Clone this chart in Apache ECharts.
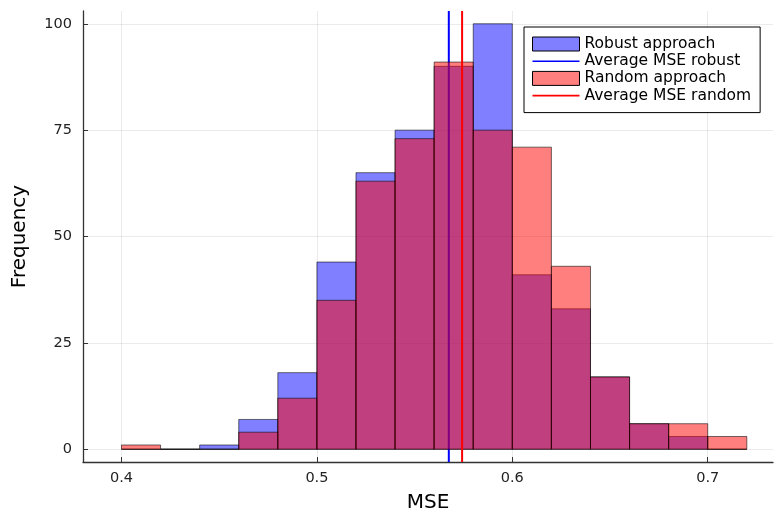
<!DOCTYPE html>
<html>
<head>
<meta charset="utf-8">
<script src="https://cdn.jsdelivr.net/npm/echarts@6/dist/echarts.min.js"></script>
<style>html,body{margin:0;padding:0;background:#fff}#c{width:775px;height:518px}</style>
</head>
<body>
<div id="c"></div>
<script>
// Bin edges (left edges), width 0.02
const binStarts = [0.40,0.42,0.44,0.46,0.48,0.50,0.52,0.54,0.56,0.58,0.60,0.62,0.64,0.66,0.68,0.70];
const binWidth = 0.02;
const robustCounts = [0,0,1,7,18,44,65,75,90,100,41,33,17,6,3,0];
const randomCounts = [1,0,0,4,12,35,63,73,91,75,71,43,17,6,6,3];
const avgRobust = 0.5675;
const avgRandom = 0.5743;
const xTicks = [0.4,0.5,0.6,0.7];
const yTicks = [0,25,50,75,100];
const xRange = [0.3803,0.7334];
const yRange = [-3,103];

function histData(counts){
  return binStarts.map((s,i)=>[s, s+binWidth, counts[i]]);
}
function renderBar(params, api){
  const a = api.coord([api.value(0), 0]);
  const b = api.coord([api.value(1), api.value(2)]);
  return {
    type:'rect',
    shape:{x:a[0], y:b[1], width:b[0]-a[0], height:a[1]-b[1]},
    style:{fill:api.visual('color'), stroke:'rgba(0,0,0,0.55)', lineWidth:1}
  };
}
const lineIcon = 'path://M0,0 M47,14 M0,6.2 L47,6.2 L47,7.8 L0,7.8 Z';
const F = 'DejaVu Sans';
const chart = echarts.init(document.getElementById('c'), null, {renderer:'canvas'});
chart.setOption({
  animation:false,
  backgroundColor:'#fff',
  textStyle:{fontFamily:F},
  grid:{left:83, right:2, top:11, bottom:52, containLabel:false},
  legend:{
    orient:'vertical', left:524, top:27,
    padding:[9,9,9,8], itemGap:1.2, itemWidth:47, itemHeight:14,
    borderColor:'#000', borderWidth:1, backgroundColor:'#fff',
    textStyle:{fontFamily:F, fontSize:15.5, color:'#000', lineHeight:15},
    data:[
      {name:'Robust approach', icon:'rect', itemStyle:{color:'rgba(0,0,255,0.5)', borderColor:'#000', borderWidth:1}},
      {name:'Average MSE robust', icon:lineIcon, itemStyle:{color:'#0000ff', borderWidth:0}},
      {name:'Random approach', icon:'rect', itemStyle:{color:'rgba(255,0,0,0.5)', borderColor:'#000', borderWidth:1}},
      {name:'Average MSE random', icon:lineIcon, itemStyle:{color:'#ff0000', borderWidth:0}}
    ]
  },
  xAxis:{
    type:'value', min:xRange[0], max:xRange[1],
    name:'MSE', nameLocation:'middle', nameGap:31,
    nameTextStyle:{fontFamily:F, fontSize:20, color:'#000'},
    axisLine:{show:true, onZero:false, lineStyle:{color:'#333', width:1.3}},
    axisTick:{show:true, inside:true, length:5, customValues:xTicks, lineStyle:{color:'#333'}},
    axisLabel:{customValues:xTicks, margin:9, fontSize:14.5, color:'#222', fontFamily:F,
      formatter:v=>v.toFixed(1)},
    splitLine:{show:true, lineStyle:{color:'rgba(0,0,0,0.08)', width:1}}
  },
  yAxis:{
    type:'value', min:yRange[0], max:yRange[1],
    name:'Frequency', nameLocation:'middle', nameGap:53,
    nameTextStyle:{fontFamily:F, fontSize:20, color:'#000'},
    axisLine:{show:true, onZero:false, lineStyle:{color:'#333', width:1.3}},
    axisTick:{show:true, inside:true, length:5, customValues:yTicks, lineStyle:{color:'#333'}},
    axisLabel:{customValues:yTicks, margin:11, fontSize:14.5, color:'#222', fontFamily:F},
    splitLine:{show:true, lineStyle:{color:'rgba(0,0,0,0.08)', width:1}}
  },
  series:[
    {name:'Robust approach', type:'custom', renderItem:renderBar,
     itemStyle:{color:'rgba(0,0,255,0.5)'}, encode:{x:[0,1], y:2}, data:histData(robustCounts), z:2},
    {name:'Average MSE robust', type:'line', symbol:'none', showSymbol:false,
     lineStyle:{color:'#0000ff', width:2}, itemStyle:{color:'#0000ff'},
     data:[[avgRobust, yRange[0]],[avgRobust, yRange[1]]], z:3},
    {name:'Random approach', type:'custom', renderItem:renderBar,
     itemStyle:{color:'rgba(255,0,0,0.5)'}, encode:{x:[0,1], y:2}, data:histData(randomCounts), z:4},
    {name:'Average MSE random', type:'line', symbol:'none', showSymbol:false,
     lineStyle:{color:'#ff0000', width:2}, itemStyle:{color:'#ff0000'},
     data:[[avgRandom, yRange[0]],[avgRandom, yRange[1]]], z:5}
  ]
});
</script>
</body>
</html>
